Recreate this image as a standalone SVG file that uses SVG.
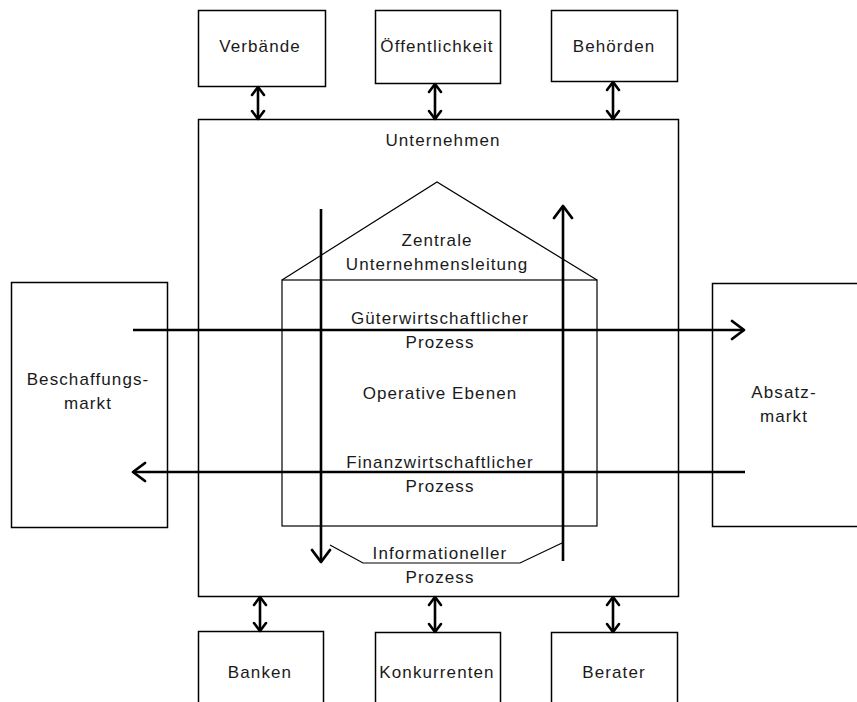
<svg xmlns="http://www.w3.org/2000/svg" width="857" height="702" viewBox="0 0 857 702">
  <style>
    .box { fill: #ffffff; stroke: #000000; stroke-width: 1.5; }
    .thin { fill: none; stroke: #000000; stroke-width: 1.2; }
    .flow { fill: none; stroke: #000000; stroke-width: 2.6; }
    .link { fill: none; stroke: #000000; stroke-width: 2.6; }
    text { font-family: "Liberation Sans", Arial, sans-serif; font-size: 17px; fill: #1a1a1a; text-anchor: middle; letter-spacing: 1.1px; }
  </style>
  <defs>
    <marker id="head" markerUnits="userSpaceOnUse" markerWidth="30" markerHeight="30" refX="0" refY="0" viewBox="-15 -15 30 30" orient="auto">
      <path d="M-12,-9 L0,0 L-12,9" fill="none" stroke="#000" stroke-width="2.8" stroke-linecap="round" stroke-linejoin="round"/>
    </marker>
    <marker id="tip" markerUnits="userSpaceOnUse" markerWidth="24" markerHeight="24" refX="0" refY="0" viewBox="-12 -12 24 24" orient="auto-start-reverse">
      <path d="M-8,-6 L0,0 L-8,6" fill="none" stroke="#000" stroke-width="2.6" stroke-linecap="round" stroke-linejoin="round"/>
    </marker>
  </defs>

  <rect width="857" height="702" fill="#ffffff"/>

  <!-- enterprise frame -->
  <g id="unternehmen">
    <rect class="box" x="198.5" y="119.5" width="480" height="477"/>
    <text x="443" y="146">Unternehmen</text>
  </g>

  <!-- house: management roof + operative level -->
  <g id="leitung">
    <polyline class="thin" points="282,280 437,182 597,280"/>
    <text x="437" y="246">Zentrale</text>
    <text x="437" y="270">Unternehmensleitung</text>
  </g>
  <g id="operativ">
    <rect class="thin" x="282" y="280" width="315" height="246"/>
    <text x="440" y="399">Operative Ebenen</text>
  </g>

  <!-- environment boxes -->
  <g id="verbaende">
    <rect class="box" x="198.5" y="10.5" width="127" height="76"/>
    <text x="260" y="52">Verbände</text>
  </g>
  <g id="oeffentlichkeit">
    <rect class="box" x="375.5" y="10.5" width="125" height="73"/>
    <text x="437" y="52">Öffentlichkeit</text>
  </g>
  <g id="behoerden">
    <rect class="box" x="551.5" y="10.5" width="126" height="71"/>
    <text x="614" y="52">Behörden</text>
  </g>
  <g id="banken">
    <rect class="box" x="198.5" y="631.5" width="125" height="80"/>
    <text x="260" y="678">Banken</text>
  </g>
  <g id="konkurrenten">
    <rect class="box" x="375.5" y="632.5" width="125" height="80"/>
    <text x="437" y="678">Konkurrenten</text>
  </g>
  <g id="berater">
    <rect class="box" x="551.5" y="632.5" width="126" height="80"/>
    <text x="614" y="678">Berater</text>
  </g>
  <g id="beschaffungsmarkt">
    <rect class="box" x="11.5" y="282.5" width="156" height="245"/>
    <text x="88" y="385">Beschaffungs-</text>
    <text x="88" y="409">markt</text>
  </g>
  <g id="absatzmarkt">
    <rect class="box" x="712.5" y="283.5" width="150" height="243"/>
    <text x="784" y="398">Absatz-</text>
    <text x="784" y="422">markt</text>
  </g>

  <!-- connectors -->
  <g id="connectors">
    <line class="flow" x1="133" y1="330" x2="744" y2="330" marker-end="url(#head)"/>
    <line class="flow" x1="745" y1="472" x2="133" y2="472" marker-end="url(#head)"/>
    <line class="flow" x1="321" y1="209" x2="321" y2="562" marker-end="url(#head)"/>
    <line class="flow" x1="563" y1="561" x2="563" y2="206" marker-end="url(#head)"/>
    <polyline class="thin" points="330,545 363,563 520,563 562,543"/>

    <line class="link" x1="258" y1="87" x2="258" y2="119" marker-start="url(#tip)" marker-end="url(#tip)"/>
    <line class="link" x1="435" y1="84" x2="435" y2="119" marker-start="url(#tip)" marker-end="url(#tip)"/>
    <line class="link" x1="613" y1="82" x2="613" y2="119" marker-start="url(#tip)" marker-end="url(#tip)"/>
    <line class="link" x1="260" y1="597" x2="260" y2="631" marker-start="url(#tip)" marker-end="url(#tip)"/>
    <line class="link" x1="435" y1="597" x2="435" y2="632" marker-start="url(#tip)" marker-end="url(#tip)"/>
    <line class="link" x1="613" y1="597" x2="613" y2="632" marker-start="url(#tip)" marker-end="url(#tip)"/>
  </g>

  <!-- flow labels -->
  <g id="labels">
    <text x="440" y="324">Güterwirtschaftlicher</text>
    <text x="440" y="348">Prozess</text>
    <text x="440" y="468">Finanzwirtschaftlicher</text>
    <text x="440" y="492">Prozess</text>
    <text x="440" y="559">Informationeller</text>
    <text x="440" y="583">Prozess</text>
  </g>
</svg>
